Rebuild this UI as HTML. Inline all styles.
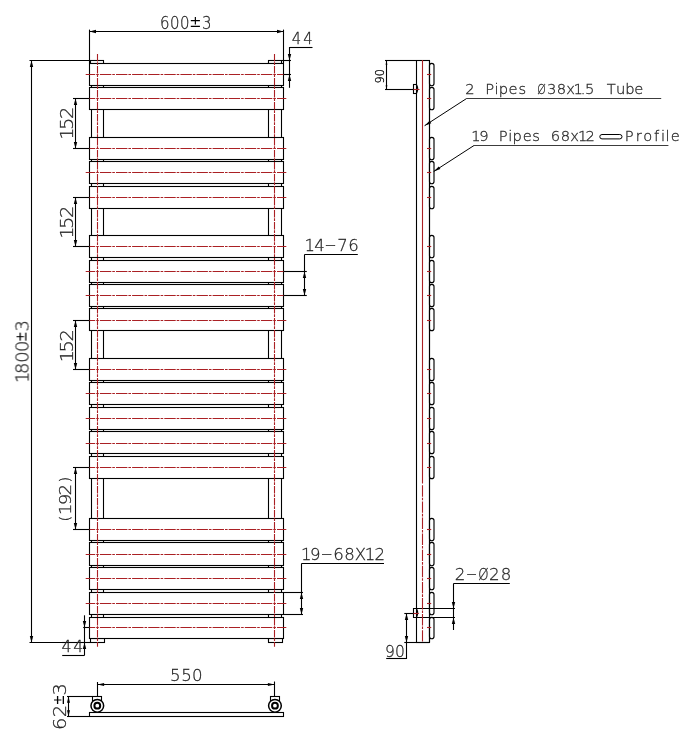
<!DOCTYPE html>
<html><head><meta charset="utf-8"><title>Radiator drawing</title>
<style>
html,body{margin:0;padding:0;background:#fff}
svg{display:block}
.k{fill:none;stroke:#000;stroke-width:1.1}
.kw{fill:#fff;stroke:#000;stroke-width:1.1}
.d{fill:none;stroke:#000;stroke-width:1.0}
.g{fill:none;stroke:#3c3c3c;stroke-width:1.05}
.a{fill:#000;stroke:none}
.r{fill:none;stroke:#aa2024;stroke-width:1.1}
.rh{fill:none;stroke:#aa2024;stroke-width:1.1;stroke-dasharray:11.4 1 2.6 1.1;stroke-dashoffset:1.9}
.rs{fill:none;stroke:#aa2024;stroke-width:1.1;stroke-dasharray:11.4 1 2.6 1.1}
.rv{fill:none;stroke:#aa2024;stroke-width:1.1;stroke-dasharray:7.4 0.9 2.8 0.9}
text{font-family:"DejaVu Sans","Liberation Sans",sans-serif;text-anchor:middle}
.t{font-weight:200;fill:#262626;stroke:#262626;stroke-width:0.26}
.ts{font-weight:200;fill:#000;stroke:#000;stroke-width:0.3}
.tb{font-weight:400;fill:#000;stroke:none}
#text{opacity:0.999}
</style></head>
<body>
<svg width="699" height="735" viewBox="0 0 699 735">
<rect x="0" y="0" width="699" height="735" fill="#fff"/>
<g id="front">
<rect class="k" x="91.5" y="62.5" width="12" height="578"/>
<rect class="k" x="268.5" y="62.5" width="13" height="578"/>
<rect class="kw" x="90.5" y="60.5" width="13" height="3"/>
<rect class="kw" x="268.5" y="60.5" width="13" height="3"/>
<rect class="kw" x="90.5" y="638.5" width="14" height="4"/>
<rect class="kw" x="268.5" y="638.5" width="14" height="4"/>
<rect class="kw" x="89.5" y="63.5" width="194" height="22"/>
<rect class="kw" x="89.5" y="87.5" width="194" height="22"/>
<rect class="kw" x="89.5" y="137.5" width="194" height="22"/>
<rect class="kw" x="89.5" y="161.5" width="194" height="22"/>
<rect class="kw" x="89.5" y="186.5" width="194" height="22"/>
<rect class="kw" x="89.5" y="235.5" width="194" height="22"/>
<rect class="kw" x="89.5" y="260.5" width="194" height="22"/>
<rect class="kw" x="89.5" y="284.5" width="194" height="22"/>
<rect class="kw" x="89.5" y="308.5" width="194" height="22"/>
<rect class="kw" x="89.5" y="358.5" width="194" height="22"/>
<rect class="kw" x="89.5" y="382.5" width="194" height="22"/>
<rect class="kw" x="89.5" y="407.5" width="194" height="22"/>
<rect class="kw" x="89.5" y="431.5" width="194" height="22"/>
<rect class="kw" x="89.5" y="456.5" width="194" height="22"/>
<rect class="kw" x="89.5" y="518.5" width="194" height="22"/>
<rect class="kw" x="89.5" y="542.5" width="194" height="23"/>
<rect class="kw" x="89.5" y="567.5" width="194" height="22"/>
<rect class="kw" x="89.5" y="592.5" width="194" height="22"/>
<rect class="kw" x="89.5" y="617.5" width="194" height="21"/>
<line class="rh" x1="85.7" y1="74.5" x2="286.3" y2="74.5"/>
<line class="rh" x1="85.7" y1="98.5" x2="286.3" y2="98.5"/>
<line class="rh" x1="85.7" y1="148.5" x2="286.3" y2="148.5"/>
<line class="rh" x1="85.7" y1="172.5" x2="286.3" y2="172.5"/>
<line class="rh" x1="85.7" y1="197.5" x2="286.3" y2="197.5"/>
<line class="rh" x1="85.7" y1="246.5" x2="286.3" y2="246.5"/>
<line class="rh" x1="85.7" y1="271.5" x2="286.3" y2="271.5"/>
<line class="rh" x1="85.7" y1="295.5" x2="286.3" y2="295.5"/>
<line class="rh" x1="85.7" y1="320.5" x2="286.3" y2="320.5"/>
<line class="rh" x1="85.7" y1="369.5" x2="286.3" y2="369.5"/>
<line class="rh" x1="85.7" y1="393.5" x2="286.3" y2="393.5"/>
<line class="rh" x1="85.7" y1="418.5" x2="286.3" y2="418.5"/>
<line class="rh" x1="85.7" y1="443.5" x2="286.3" y2="443.5"/>
<line class="rh" x1="85.7" y1="467.5" x2="286.3" y2="467.5"/>
<line class="rh" x1="85.7" y1="529.5" x2="286.3" y2="529.5"/>
<line class="rh" x1="85.7" y1="554.5" x2="286.3" y2="554.5"/>
<line class="rh" x1="85.7" y1="578.5" x2="286.3" y2="578.5"/>
<line class="rh" x1="85.7" y1="603.5" x2="286.3" y2="603.5"/>
<line class="rh" x1="85.7" y1="627.5" x2="286.3" y2="627.5"/>
<line class="rv" x1="97.5" y1="54" x2="97.5" y2="646.8"/>
<line class="rv" x1="274.5" y1="54" x2="274.5" y2="646.8"/>
</g>
<g id="dims">
<line class="k" x1="89.5" y1="29.60" x2="89.5" y2="63.50"/>
<line class="k" x1="283.5" y1="29.60" x2="283.5" y2="63.50"/>
<line class="k" x1="89.50" y1="31.5" x2="283.50" y2="31.5"/>
<polygon class="a" points="89.50,31.50 96.00,33.20 96.00,29.80"/>
<polygon class="a" points="283.50,31.50 277.00,29.80 277.00,33.20"/>
<line class="k" x1="29.50" y1="60.5" x2="90.50" y2="60.5"/>
<line class="k" x1="29.50" y1="642.5" x2="90.50" y2="642.5"/>
<line class="k" x1="31.5" y1="60.50" x2="31.5" y2="642.50"/>
<polygon class="a" points="31.50,60.50 29.80,67.00 33.20,67.00"/>
<polygon class="a" points="31.50,642.50 33.20,636.00 29.80,636.00"/>
<line class="k" x1="73.00" y1="98.5" x2="89.50" y2="98.5"/>
<line class="k" x1="73.00" y1="148.5" x2="89.50" y2="148.5"/>
<line class="k" x1="75.5" y1="98.50" x2="75.5" y2="148.50"/>
<polygon class="a" points="75.50,98.50 73.80,105.00 77.20,105.00"/>
<polygon class="a" points="75.50,148.50 77.20,142.00 73.80,142.00"/>
<line class="k" x1="73.00" y1="197.5" x2="89.50" y2="197.5"/>
<line class="k" x1="73.00" y1="246.5" x2="89.50" y2="246.5"/>
<line class="k" x1="75.5" y1="197.50" x2="75.5" y2="246.50"/>
<polygon class="a" points="75.50,197.50 73.80,204.00 77.20,204.00"/>
<polygon class="a" points="75.50,246.50 77.20,240.00 73.80,240.00"/>
<line class="k" x1="73.00" y1="320.5" x2="89.50" y2="320.5"/>
<line class="k" x1="73.00" y1="369.5" x2="89.50" y2="369.5"/>
<line class="k" x1="75.5" y1="320.50" x2="75.5" y2="369.50"/>
<polygon class="a" points="75.50,320.50 73.80,327.00 77.20,327.00"/>
<polygon class="a" points="75.50,369.50 77.20,363.00 73.80,363.00"/>
<line class="k" x1="73.00" y1="467.5" x2="89.50" y2="467.5"/>
<line class="k" x1="73.00" y1="529.5" x2="89.50" y2="529.5"/>
<line class="k" x1="75.5" y1="467.50" x2="75.5" y2="529.50"/>
<polygon class="a" points="75.50,467.50 73.80,474.00 77.20,474.00"/>
<polygon class="a" points="75.50,529.50 77.20,523.00 73.80,523.00"/>
<line class="k" x1="282.00" y1="60.5" x2="291.00" y2="60.5"/>
<line class="k" x1="283.50" y1="74.5" x2="291.00" y2="74.5"/>
<line class="k" x1="289.5" y1="47.00" x2="289.5" y2="87.80"/>
<line class="k" x1="289.50" y1="47.5" x2="312.50" y2="47.5"/>
<polygon class="a" points="289.50,60.50 291.20,54.00 287.80,54.00"/>
<polygon class="a" points="289.50,74.50 287.80,81.00 291.20,81.00"/>
<line class="k" x1="83.20" y1="627.5" x2="89.50" y2="627.5"/>
<line class="k" x1="62.00" y1="642.5" x2="90.50" y2="642.5"/>
<line class="k" x1="84.5" y1="615.30" x2="84.5" y2="655.50"/>
<line class="k" x1="62.20" y1="655.5" x2="84.50" y2="655.5"/>
<polygon class="a" points="84.50,627.50 86.20,621.00 82.80,621.00"/>
<polygon class="a" points="84.50,642.50 82.80,649.00 86.20,649.00"/>
<line class="k" x1="283.50" y1="271.5" x2="306.80" y2="271.5"/>
<line class="k" x1="283.50" y1="295.5" x2="306.80" y2="295.5"/>
<line class="k" x1="304.5" y1="254.50" x2="304.5" y2="295.50"/>
<line class="k" x1="304.50" y1="254.5" x2="357.80" y2="254.5"/>
<polygon class="a" points="304.50,271.50 302.80,278.00 306.20,278.00"/>
<polygon class="a" points="304.50,295.50 306.20,289.00 302.80,289.00"/>
<line class="k" x1="283.50" y1="592.5" x2="303.00" y2="592.5"/>
<line class="k" x1="283.50" y1="614.5" x2="303.00" y2="614.5"/>
<line class="k" x1="301.5" y1="563.50" x2="301.5" y2="614.50"/>
<line class="k" x1="301.50" y1="563.5" x2="384.00" y2="563.5"/>
<polygon class="a" points="301.50,592.50 299.80,599.00 303.20,599.00"/>
<polygon class="a" points="301.50,614.50 303.20,608.00 299.80,608.00"/>
</g>
<g id="side">
<rect class="kw" x="413.5" y="84.5" width="4" height="9"/>
<rect class="kw" x="416.5" y="60.5" width="13" height="582"/>
<rect class="kw" x="429.5" y="63.3" width="4.5" height="22.4" rx="2.25" ry="2.25" style="stroke-width:1.15"/>
<rect class="kw" x="429.5" y="87.3" width="4.5" height="22.4" rx="2.25" ry="2.25" style="stroke-width:1.15"/>
<rect class="kw" x="429.5" y="137.3" width="4.5" height="22.4" rx="2.25" ry="2.25" style="stroke-width:1.15"/>
<rect class="kw" x="429.5" y="161.3" width="4.5" height="22.4" rx="2.25" ry="2.25" style="stroke-width:1.15"/>
<rect class="kw" x="429.5" y="186.3" width="4.5" height="22.4" rx="2.25" ry="2.25" style="stroke-width:1.15"/>
<rect class="kw" x="429.5" y="235.3" width="4.5" height="22.4" rx="2.25" ry="2.25" style="stroke-width:1.15"/>
<rect class="kw" x="429.5" y="260.3" width="4.5" height="22.4" rx="2.25" ry="2.25" style="stroke-width:1.15"/>
<rect class="kw" x="429.5" y="284.3" width="4.5" height="22.4" rx="2.25" ry="2.25" style="stroke-width:1.15"/>
<rect class="kw" x="429.5" y="308.3" width="4.5" height="22.4" rx="2.25" ry="2.25" style="stroke-width:1.15"/>
<rect class="kw" x="429.5" y="358.3" width="4.5" height="22.4" rx="2.25" ry="2.25" style="stroke-width:1.15"/>
<rect class="kw" x="429.5" y="382.3" width="4.5" height="22.4" rx="2.25" ry="2.25" style="stroke-width:1.15"/>
<rect class="kw" x="429.5" y="407.3" width="4.5" height="22.4" rx="2.25" ry="2.25" style="stroke-width:1.15"/>
<rect class="kw" x="429.5" y="431.3" width="4.5" height="22.4" rx="2.25" ry="2.25" style="stroke-width:1.15"/>
<rect class="kw" x="429.5" y="456.3" width="4.5" height="22.4" rx="2.25" ry="2.25" style="stroke-width:1.15"/>
<rect class="kw" x="429.5" y="518.3" width="4.5" height="22.4" rx="2.25" ry="2.25" style="stroke-width:1.15"/>
<rect class="kw" x="429.5" y="542.3" width="4.5" height="23.4" rx="2.25" ry="2.25" style="stroke-width:1.15"/>
<rect class="kw" x="429.5" y="567.3" width="4.5" height="22.4" rx="2.25" ry="2.25" style="stroke-width:1.15"/>
<rect class="kw" x="429.5" y="592.3" width="4.5" height="22.4" rx="2.25" ry="2.25" style="stroke-width:1.15"/>
<rect class="kw" x="429.5" y="617.3" width="4.5" height="21.4" rx="2.25" ry="2.25" style="stroke-width:1.15"/>
<line class="k" x1="429.5" y1="60.50" x2="429.5" y2="642.50"/>
<path class="k" d="M416.5 84.5 Q418.9 89.0 416.5 93.5"/>
<path class="k" d="M416.5 608.5 Q418.9 613.0 416.5 617.5"/>
<path class="k" d="M455 608.5 H413.5 V617.5 H455"/>
<line class="r" x1="422.5" y1="60" x2="422.5" y2="483.5"/>
<line class="rs" x1="422.5" y1="485.3" x2="422.5" y2="643"/>
<line class="r" x1="427.00" y1="74.5" x2="431.20" y2="74.5"/>
<line class="r" x1="427.00" y1="98.5" x2="431.20" y2="98.5"/>
<line class="r" x1="427.00" y1="148.5" x2="431.20" y2="148.5"/>
<line class="r" x1="427.00" y1="172.5" x2="431.20" y2="172.5"/>
<line class="r" x1="427.00" y1="197.5" x2="431.20" y2="197.5"/>
<line class="r" x1="427.00" y1="246.5" x2="431.20" y2="246.5"/>
<line class="r" x1="427.00" y1="271.5" x2="431.20" y2="271.5"/>
<line class="r" x1="427.00" y1="295.5" x2="431.20" y2="295.5"/>
<line class="r" x1="427.00" y1="320.5" x2="431.20" y2="320.5"/>
<line class="r" x1="427.00" y1="369.5" x2="431.20" y2="369.5"/>
<line class="r" x1="427.00" y1="393.5" x2="431.20" y2="393.5"/>
<line class="r" x1="427.00" y1="418.5" x2="431.20" y2="418.5"/>
<line class="r" x1="427.00" y1="443.5" x2="431.20" y2="443.5"/>
<line class="r" x1="427.00" y1="467.5" x2="431.20" y2="467.5"/>
<line class="r" x1="427.00" y1="529.5" x2="431.20" y2="529.5"/>
<line class="r" x1="427.00" y1="554.5" x2="431.20" y2="554.5"/>
<line class="r" x1="427.00" y1="578.5" x2="431.20" y2="578.5"/>
<line class="r" x1="427.00" y1="603.5" x2="431.20" y2="603.5"/>
<line class="r" x1="427.00" y1="627.5" x2="431.20" y2="627.5"/>
<line class="r" x1="412.00" y1="89.5" x2="419.50" y2="89.5"/>
<line class="r" x1="412.80" y1="613.5" x2="418.80" y2="613.5"/>
</g>
<g id="sdims">
<line class="k" x1="385.00" y1="60.5" x2="416.50" y2="60.5"/>
<line class="k" x1="385.00" y1="89.5" x2="413.50" y2="89.5"/>
<line class="k" x1="386.5" y1="60.50" x2="386.5" y2="89.50"/>
<polygon class="a" points="386.50,60.50 385.60,64.70 387.40,64.70"/>
<polygon class="a" points="386.50,89.50 387.40,85.30 385.60,85.30"/>
<line class="k" x1="404.30" y1="613.5" x2="413.50" y2="613.5"/>
<line class="k" x1="404.30" y1="642.5" x2="429.50" y2="642.5"/>
<line class="k" x1="406.5" y1="613.50" x2="406.5" y2="659.00"/>
<line class="k" x1="386.20" y1="658.5" x2="406.50" y2="658.5"/>
<polygon class="a" points="406.50,613.50 404.80,620.00 408.20,620.00"/>
<polygon class="a" points="406.50,642.50 408.20,636.00 404.80,636.00"/>
<line class="k" x1="453.5" y1="583.50" x2="453.5" y2="630.00"/>
<line class="k" x1="453.50" y1="583.5" x2="509.80" y2="583.5"/>
<polygon class="a" points="453.50,608.50 455.20,602.00 451.80,602.00"/>
<polygon class="a" points="453.50,617.50 451.80,624.00 455.20,624.00"/>
<line class="g" x1="466.60" y1="98.5" x2="661.20" y2="98.5"/>
<line class="d" x1="466.60" y1="98.50" x2="424.60" y2="125.70"/>
<polygon class="a" points="424.60,125.70 431.29,123.15 429.66,120.64"/>
<line class="g" x1="474.00" y1="145.5" x2="668.40" y2="145.5"/>
<line class="d" x1="474.00" y1="145.50" x2="433.70" y2="171.50"/>
<polygon class="a" points="433.70,171.50 440.40,168.97 438.77,166.44"/>
<rect class="k" x="599.8" y="134.5" width="22.2" height="4.4" rx="2.2" ry="2.2" style="stroke-width:1.0"/>
</g>
<g id="plan">
<rect class="kw" x="89.5" y="712.5" width="194" height="4"/>
<rect class="kw" x="92.5" y="696.5" width="9" height="4"/>
<circle class="kw" cx="97.3" cy="705.8" r="6.35" style="stroke-width:1.5"/>
<circle class="kw" cx="97.3" cy="705.7" r="2.9" style="stroke-width:2.0"/>
<rect class="kw" x="270.5" y="696.5" width="9" height="4"/>
<circle class="kw" cx="274.95" cy="705.8" r="6.35" style="stroke-width:1.5"/>
<circle class="kw" cx="274.95" cy="705.7" r="2.9" style="stroke-width:2.0"/>
<line class="k" x1="97.5" y1="682.00" x2="97.5" y2="696.50"/>
<line class="k" x1="274.5" y1="681.50" x2="274.5" y2="696.50"/>
<line class="k" x1="97.50" y1="684.5" x2="274.50" y2="684.5"/>
<polygon class="a" points="97.50,684.50 104.10,685.90 104.10,683.10"/>
<polygon class="a" points="274.50,684.50 267.90,683.10 267.90,685.90"/>
<line class="k" x1="67.00" y1="696.5" x2="92.50" y2="696.5"/>
<line class="k" x1="67.00" y1="716.5" x2="89.50" y2="716.5"/>
<line class="k" x1="68.5" y1="696.50" x2="68.5" y2="716.50"/>
<polygon class="a" points="68.50,696.50 67.00,702.70 70.00,702.70"/>
<polygon class="a" points="68.50,716.50 70.00,710.30 67.00,710.30"/>
</g>
<g id="text">
<text class="t" font-size="16.9" transform="translate(0 28.50) scale(0.885 1)" x="186.10 197.40 208.81 220.79 233.67" y="0" dy="0.0 0.0 0.0 -1.8 1.8">600<tspan class="tb" font-size="16.5">±</tspan>3</text>
<text class="t" font-size="15.6" transform="translate(0 43.80) scale(0.95 1)" x="312.00 324.21" y="0">44</text>
<text class="t" font-size="15.8" transform="translate(0 652.00) scale(1.0 1)" x="66.60 78.20" y="0">44</text>
<text class="t" font-size="16.0" transform="translate(0 250.70) scale(1.03 1)" x="300.78 310.19 320.78 332.62 343.20" y="0" dy="0.0 0.0 -1.1 1.1 0.0">14<tspan textLength="11.63" lengthAdjust="spacingAndGlyphs">-</tspan>76</text>
<text class="t" font-size="15.8" transform="translate(0 559.90) scale(1.05 1)" x="291.81 300.29 311.24 322.48 332.86 343.24 352.38 361.62" y="0" dy="0.0 0.0 -1.1 1.1 0.0 0.0 0.0 0.0">19<tspan textLength="11.41" lengthAdjust="spacingAndGlyphs">-</tspan>68X12</text>
<text class="t" font-size="16.2" transform="translate(0 580.30) scale(1.03 1)" x="446.70 457.96 469.22 480.00 491.26" y="0" dy="0.0 -1.1 1.1 0.0 0.0">2<tspan textLength="10.84" lengthAdjust="spacingAndGlyphs">-</tspan><tspan textLength="10.02" lengthAdjust="spacingAndGlyphs">Ø</tspan>28</text>
<text class="t" font-size="16.0" transform="translate(0 656.80) scale(0.97 1)" x="402.06 412.37" y="0">90</text>
<text class="t" font-size="16.0" transform="translate(0 681.20) scale(1.04 1)" x="168.65 179.42 189.81" y="0">550</text>
<text class="t" font-size="17.3" transform="translate(73.20 0) rotate(-90) scale(1.12 1)" x="-119.29 -110.54 -100.71" y="0">152</text>
<text class="t" font-size="17.3" transform="translate(73.20 0) rotate(-90) scale(1.12 1)" x="-207.77 -199.02 -189.20" y="0">152</text>
<text class="t" font-size="17.3" transform="translate(73.20 0) rotate(-90) scale(1.12 1)" x="-317.95 -309.20 -299.38" y="0">152</text>
<text class="t" font-size="16.6" transform="translate(71.40 0) rotate(-90) scale(1.1 1)" x="-471.45 -462.91 -454.00 -445.09 -436.00" y="0" dy="-1.3 1.3 0.0 0.0 -1.3"><tspan font-size="13.3">(</tspan>192<tspan font-size="13.3">)</tspan></text>
<text class="t" font-size="17.3" transform="translate(28.50 0) rotate(-90) scale(1.04 1)" x="-362.88 -354.04 -343.37 -332.98 -323.85 -313.37" y="0" dy="0.0 0.0 0.0 0.0 -2.2 2.2">1800<tspan class="tb" font-size="16.5" textLength="10.30" lengthAdjust="spacingAndGlyphs">±</tspan>3</text>
<text class="t" font-size="17.3" transform="translate(65.90 0) rotate(-90) scale(1.12 1)" x="-646.25 -635.00 -624.91 -615.45" y="0" dy="0.0 0.0 -2.2 2.2">62<tspan class="tb" font-size="16.5" textLength="9.80" lengthAdjust="spacingAndGlyphs">±</tspan>3</text>
<text class="ts" font-size="12.2" transform="translate(383.70 0) rotate(-90) scale(0.92 1)" x="-86.96 -79.02" y="0">90</text>
<text class="t" font-size="13.6" transform="translate(0 94.30) scale(1.08 1)" x="435.19 444.44 453.33 459.72 466.02 475.09 483.61 490.74 501.39 510.74 519.81 528.43 535.37 539.81 546.02 553.70 565.93 574.72 583.24 591.57" y="0">2 Pipes <tspan textLength="7.93" lengthAdjust="spacingAndGlyphs">Ø</tspan>38x1.5 Tube</text>
<text class="t" font-size="13.6" transform="translate(0 141.10) scale(1.08 1)" x="440.74 448.06 455.56 465.83 472.59 478.98 488.33 496.39 503.70 514.26 523.43 531.94 539.44 546.57 565.74 582.59 591.57 599.81 607.96 613.89 618.06 625.19" y="0">19 Pipes 68x12 Profile</text>
</g>
</svg>
</body></html>
